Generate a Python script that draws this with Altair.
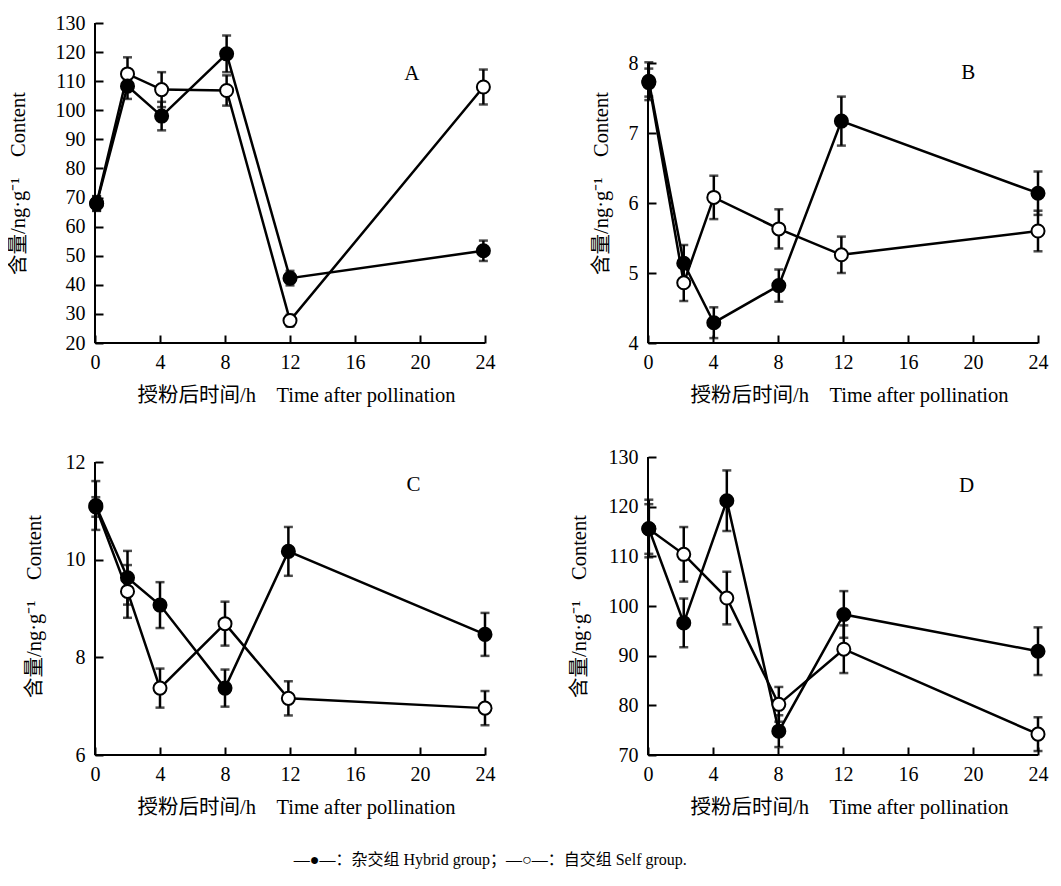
import altair as alt
import pandas as pd

# ---------------- data ----------------
hours_A = [0.1, 2, 4.1, 8.1, 12, 23.9]
hyb_A = [67.9, 108.3, 98.0, 119.4, 42.3, 51.7]
hyb_A_err = [2.5, 4.4, 4.9, 6.3, 2.5, 3.5]
self_A = [68.0, 112.5, 107.1, 106.8, 27.7, 108.0]
self_A_err = [2.5, 5.7, 6.0, 5.2, 2.0, 6.0]

hours_B = [0.05, 2.2, 4.05, 8.05, 11.9, 24]
hyb_B = [7.74, 5.14, 4.29, 4.82, 7.17, 6.14]
hyb_B_err = [0.27, 0.26, 0.22, 0.23, 0.35, 0.31]
self_B = [7.72, 4.86, 6.08, 5.63, 5.26, 5.60]
self_B_err = [0.2, 0.26, 0.31, 0.28, 0.26, 0.29]

hours_C = [0.05, 2, 4, 8, 11.9, 24]
hyb_C = [11.11, 9.63, 9.07, 7.37, 10.17, 8.47]
hyb_C_err = [0.5, 0.55, 0.47, 0.38, 0.5, 0.44]
self_C = [11.08, 9.35, 7.37, 8.69, 7.16, 6.96]
self_C_err = [0.2, 0.54, 0.4, 0.45, 0.35, 0.35]

hours_D = [0.05, 2.2, 4.85, 8.05, 12.05, 24]
hyb_D = [115.6, 96.6, 121.2, 74.8, 98.3, 90.9]
hyb_D_err = [5.8, 4.9, 6.1, 3.2, 4.7, 4.8]
self_D = [115.5, 110.4, 101.6, 80.2, 91.3, 74.2]
self_D_err = [5.0, 5.5, 5.3, 3.5, 4.8, 3.4]

x_ticks = [0, 4, 8, 12, 16, 20, 24]
y_ticks_A = [20, 30, 40, 50, 60, 70, 80, 90, 100, 110, 120, 130]
y_ticks_B = [4, 5, 6, 7, 8]
y_ticks_C = [6, 8, 10, 12]
y_ticks_D = [70, 80, 90, 100, 110, 120, 130]

x_title = "授粉后时间/h\u2003Time after pollination"
y_title = "含量/ng·g⁻¹\u2003Content"
legend_text = "—●—：杂交组 Hybrid group；—○—：自交组 Self group."

FONT = "Liberation Serif, Noto Sans CJK SC"
TICK = 8
W = 390


def panel(letter, hours, hyb, hyb_err, slf, slf_err, ymin, ymax, ytop, yticks,
          height, letter_pos, title_pad):
    rows = []
    for g, vals, errs in (("Self", slf, slf_err), ("Hybrid", hyb, hyb_err)):
        for h, v, e in zip(hours, vals, errs):
            rows.append({"hour": h, "value": v, "lo": v - e, "hi": v + e, "group": g})
    df = pd.DataFrame(rows)

    xs = alt.Scale(domain=[0, 24], nice=False, zero=False)
    ys = alt.Scale(domain=[ymin, ytop], nice=False, zero=False)
    xax = alt.Axis(values=x_ticks, offset=-TICK, domain=False, tickSize=TICK,
                   labelPadding=9, labelFlush=False, labelOverlap=False,
                   titlePadding=13, titleX=W / 2 + 6, grid=False, format="d")
    yax = alt.Axis(values=yticks, offset=-TICK, domain=False, tickSize=TICK,
                   labelPadding=10, labelOverlap=False, labelFlush=False,
                   titlePadding=title_pad, grid=False, format="d")
    X = alt.X("hour:Q", scale=xs, axis=xax, title=x_title)

    def Y(field):
        return alt.Y(field, scale=ys, axis=yax, title=y_title)

    def XD(v):
        return alt.XDatum(v, type="quantitative", scale=xs, axis=xax, title=x_title)

    def YD(v):
        return alt.YDatum(v, type="quantitative", scale=ys, axis=yax, title=y_title)

    base = alt.Chart(df)
    lines = base.mark_line(color="black", strokeWidth=2.5).encode(
        x=X, y=Y("value:Q"), detail="group:N")
    bars = base.mark_rule(color="black", strokeWidth=2.5).encode(
        x=X, y=Y("lo:Q"), y2="hi:Q")
    cap_lo = base.mark_tick(color="black", orient="horizontal", size=9, thickness=2.5).encode(
        x=X, y=Y("lo:Q"))
    cap_hi = base.mark_tick(color="black", orient="horizontal", size=9, thickness=2.5).encode(
        x=X, y=Y("hi:Q"))
    pts = base.mark_point(filled=True, size=170, strokeWidth=2, opacity=1).encode(
        x=X, y=Y("value:Q"),
        fill=alt.Fill("group:N", scale=alt.Scale(domain=["Hybrid", "Self"],
                                                 range=["black", "white"]), legend=None),
        stroke=alt.value("black"),
        order=alt.Order("group:N", sort="descending"))

    one = alt.Chart(pd.DataFrame({"k": [0]}))
    y_line = one.mark_rule(color="black", strokeWidth=2).encode(
        x=XD(0), y=YD(ymin), y2=alt.Y2Datum(ymax))
    x_line = one.mark_rule(color="black", strokeWidth=2).encode(
        x=XD(0), x2=alt.X2Datum(24), y=YD(ymin))
    lab = one.mark_text(font=FONT, fontSize=21, color="black").encode(
        x=XD(letter_pos[0]), y=YD(letter_pos[1]), text=alt.value(letter))

    return alt.layer(lines, bars, cap_lo, cap_hi, pts, y_line, x_line, lab).properties(
        width=W, height=height)


pA = panel("A", hours_A, hyb_A, hyb_A_err, self_A, self_A_err, 20, 130, 130, y_ticks_A,
           320, (19.5, 112.5), 27)
pB = panel("B", hours_B, hyb_B, hyb_B_err, self_B, self_B_err, 4, 8, 8 + 40 / 70, y_ticks_B,
           320, (19.7, 7.86), 17)
pC = panel("C", hours_C, hyb_C, hyb_C_err, self_C, self_C_err, 6, 12, 12.103, y_ticks_C,
           298, (19.6, 11.53), 21)
pD = panel("D", hours_D, hyb_D, hyb_D_err, self_D, self_D_err, 70, 130, 130, y_ticks_D,
           298, (19.6, 124.2), 19)

chart = alt.concat(pA, pB, pC, pD, columns=2,
                   spacing={"row": 41, "column": 73}).properties(
    title=alt.TitleParams(legend_text, orient="bottom", anchor="middle", fontSize=16,
                          font=FONT, fontWeight="normal", color="black", offset=34, dx=-38),
    padding={"left": 0, "top": 5, "right": 0, "bottom": 2},
).configure_view(stroke=None).configure_axis(
    labelFont=FONT, labelFontSize=20, labelColor="black", labelOverlap=False,
    titleFont=FONT, titleFontSize=20.5, titleFontWeight="normal", titleColor="black",
    tickColor="black", tickWidth=2,
)

chart.save("out.html", embed_options={"renderer": "svg", "actions": False})
